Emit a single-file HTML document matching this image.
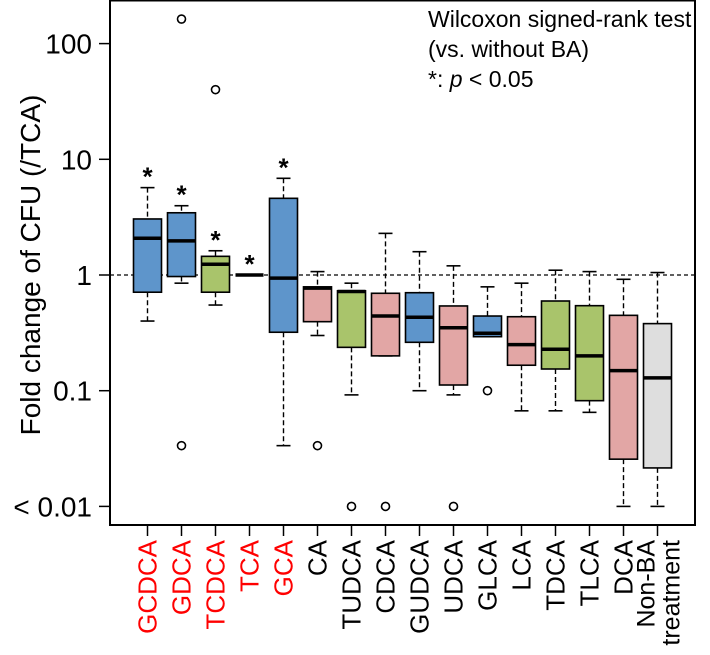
<!DOCTYPE html>
<html><head><meta charset="utf-8"><style>
html,body{margin:0;padding:0;background:#fff}
svg{display:block;font-family:"Liberation Sans",Arial,sans-serif}
</style></head><body>
<svg id="chart" width="710" height="655" viewBox="0 0 710 655" xmlns="http://www.w3.org/2000/svg"></svg>
<script>
const categories=["GCDCA","GDCA","TCDCA","TCA","GCA","CA","TUDCA","CDCA","GUDCA","UDCA","GLCA","LCA","TDCA","TLCA","DCA","Non-BA treatment"];
const significant=[true,true,true,true,true,false,false,false,false,false,false,false,false,false,false,false];
const whiskerHigh=[5.69,3.97,1.62,1,6.85,1.07,0.85,2.29,1.59,1.2,0.79,0.85,1.1,1.07,0.918,1.05];
const q3=[3.05,3.45,1.45,1,4.6,0.79,0.73,0.695,0.703,0.54,0.442,0.436,0.596,0.543,0.448,0.38];
const medians=[2.08,1.97,1.24,1,0.94,0.77,0.72,0.442,0.431,0.35,0.314,0.25,0.228,0.2,0.149,0.129];
const q1=[0.71,0.97,0.71,1,0.32,0.395,0.237,0.2,0.262,0.112,0.293,0.166,0.154,0.082,0.0256,0.0215];
const whiskerLow=[0.40,0.85,0.55,1,0.0335,0.30,0.092,0.2,0.1,0.092,0.293,0.067,0.067,0.065,0.01,0.01];
const outliers=[[],[163,0.0335],[40],[],[],[0.0335],[0.01],[0.01],[],[0.01],[0.1],[],[],[],[],[]];
const groups=["blue","blue","green","blue","blue","pink","green","pink","blue","pink","blue","pink","green","green","pink","gray"];
const yTicks=[100,10,1,0.1,0.01];
const yTickLabels=["100","10","1","0.1","< 0.01"];

const fills={blue:"#5e95cb",green:"#a9c46b",pink:"#e2a6a5",gray:"#dedede"};
const NS="http://www.w3.org/2000/svg";
const svg=document.getElementById("chart");
const L=110,R=695,T=0,B=525;
function y(v){return 275-115.7*Math.log10(v);}
function x(i){return 147.5+34*i;}
function mk(tag,attrs,parent){const e=document.createElementNS(NS,tag);for(const k in attrs)e.setAttribute(k,attrs[k]);(parent||svg).appendChild(e);return e;}

let frame=mk("rect",{x:L,y:T+0.5,width:R-L,height:B-T-0.5,fill:"none",stroke:"#000","stroke-width":2});



let ref=mk("line",{x1:L,x2:R,y1:y(1),y2:y(1),stroke:"#000","stroke-width":1.2,"stroke-dasharray":"4,3"});



yTicks.forEach((t,k)=>{
  let tk=mk("line",{x1:L-11,x2:L,y1:y(t),y2:y(t),stroke:"#000","stroke-width":1.5});
  
  
  let tx=mk("text",{x:L-18,y:y(t)+10,"text-anchor":"end","font-size":28});
  tx.textContent=yTickLabels[k];
  
  
});
let yt=mk("text",{transform:"translate(40,265) rotate(-90)","text-anchor":"middle","font-size":28});
yt.textContent="Fold change of CFU (/TCA)";



categories.forEach((c,i)=>{
  const cx=x(i),hw=14,g=mk("g",{});
  
  
  mk("line",{x1:cx,x2:cx,y1:y(whiskerHigh[i]),y2:y(q3[i]),stroke:"#000","stroke-width":1.4,"stroke-dasharray":"5,3"},g);
  mk("line",{x1:cx,x2:cx,y1:y(q1[i]),y2:y(whiskerLow[i]),stroke:"#000","stroke-width":1.4,"stroke-dasharray":"5,3"},g);
  mk("line",{x1:cx-7,x2:cx+7,y1:y(whiskerHigh[i]),y2:y(whiskerHigh[i]),stroke:"#000","stroke-width":1.6},g);
  mk("line",{x1:cx-7,x2:cx+7,y1:y(whiskerLow[i]),y2:y(whiskerLow[i]),stroke:"#000","stroke-width":1.6},g);
  mk("rect",{x:cx-hw,y:y(q3[i]),width:2*hw,height:Math.max(0,y(q1[i])-y(q3[i])),fill:fills[groups[i]],stroke:"#000","stroke-width":1.6},g);
  mk("line",{x1:cx-hw,x2:cx+hw,y1:y(medians[i]),y2:y(medians[i]),stroke:"#000","stroke-width":3.5},g);
  outliers[i].forEach(o=>{
    let p=mk("circle",{cx:cx,cy:y(o),r:4,fill:"none",stroke:"#000","stroke-width":1.6},g);
    
    
  });
  if(significant[i]){
    let s=mk("text",{x:cx,y:y(whiskerHigh[i])-2,"text-anchor":"middle","font-size":26,"font-weight":"bold"},g);
    s.textContent="*";
    
    
  }
  let xt=mk("line",{x1:cx,x2:cx,y1:B,y2:B+11,stroke:"#000","stroke-width":1.5});
  
  
  const col=significant[i]?"#ff0000":"#000";
  if(c==="Non-BA treatment"){
    let t=mk("text",{transform:`translate(${cx},540) rotate(-90)`,"text-anchor":"end","font-size":25,fill:col});
    const a=mk("tspan",{x:0,dy:-3},t);a.textContent="Non-BA";
    const b=mk("tspan",{x:0,dy:25},t);b.textContent="treatment";
    
    
  } else {
    let t=mk("text",{transform:`translate(${cx+9},540) rotate(-90)`,"text-anchor":"end","font-size":26,fill:col});
    t.textContent=c;
    
    
  }
});

const leg=mk("text",{x:428,y:27,"font-size":23});


[["Wilcoxon signed-rank test",0],["(vs. without BA)",30]].forEach(([s,dy])=>{const t=mk("tspan",{x:428,dy:dy},leg);t.textContent=s;});
const l3=mk("tspan",{x:428,dy:30},leg);
l3.innerHTML='*: <tspan font-style="italic">p</tspan> &lt; 0.05';
</script>
</body></html>
